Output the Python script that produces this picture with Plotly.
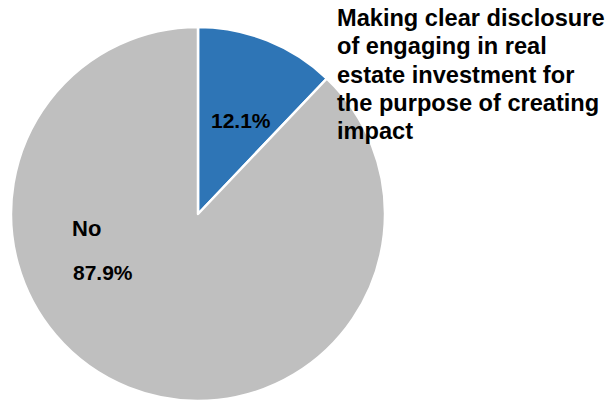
import textwrap
import plotly.graph_objects as go

# Survey shares (percent)
labels = [
    "Making clear disclosure of engaging in real estate investment for the purpose of creating impact",
    "No",
]
values = [12.1, 87.9]
colors = ["#2E75B6", "#BFBFBF"]

W, H = 613, 401


def px(x, y):
    """Pixel position (from top-left) to paper coordinates."""
    return x / W, 1 - y / H


fig = go.Figure(
    go.Pie(
        labels=labels,
        values=values,
        sort=False,
        direction="clockwise",
        rotation=0,
        marker=dict(colors=colors, line=dict(color="white", width=2.5)),
        textinfo="none",
        hoverinfo="label+percent",
        showlegend=False,
        domain=dict(x=[10 / W, 386 / W], y=[0, 374 / H]),
    )
)

family = "Liberation Sans, Arial, sans-serif"
font_pct = dict(family=family, size=21, color="black")
font_name = dict(family=family, size=22, color="black")
font_lbl = dict(family=family, size=23.6, color="black")

annotations = []
# percentage inside the blue slice
x, y = px(241, 120)
annotations.append(dict(x=x, y=y, text=f"<b>{values[0]:.1f}%</b>", font=font_pct,
                        showarrow=False, xanchor="center", yanchor="middle"))
# outside label for the blue slice, one annotation per wrapped line
for i, line in enumerate(textwrap.wrap(labels[0], width=23)):
    x, y = px(335, 18 + i * 28.3)
    annotations.append(dict(x=x, y=y, text=f"<b>{line}</b>", font=font_lbl, align="left",
                            showarrow=False, xanchor="left", yanchor="middle"))
# grey slice name and percentage
x, y = px(86, 228)
annotations.append(dict(x=x, y=y, text=f"<b>{labels[1]}</b>", font=font_name,
                        showarrow=False, xanchor="center", yanchor="middle"))
x, y = px(103, 272)
annotations.append(dict(x=x, y=y, text=f"<b>{values[1]:.1f}%</b>", font=font_pct,
                        showarrow=False, xanchor="center", yanchor="middle"))

fig.update_layout(
    width=W,
    height=H,
    margin=dict(l=0, r=0, t=0, b=0),
    paper_bgcolor="white",
    plot_bgcolor="white",
    annotations=annotations,
)

fig.write_html("out.html")
